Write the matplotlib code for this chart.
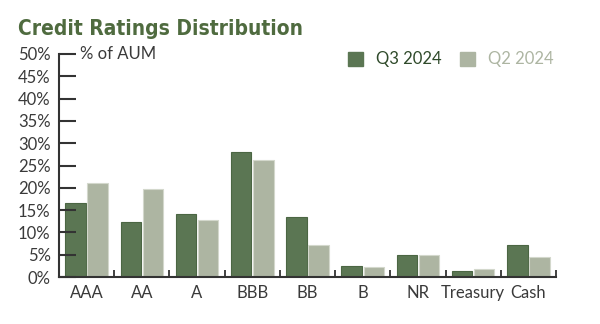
import numpy as np
import matplotlib
matplotlib.use("Agg")
import matplotlib.pyplot as plt
from matplotlib.patches import Rectangle

plt.rcParams['font.family'] = ['Lato', 'DejaVu Sans']

# data
categories = ['AAA', 'AA', 'A', 'BBB', 'BB', 'B', 'NR', 'Treasury', 'Cash']
q3_2024 = [16.5, 12.3, 14.2, 28.0, 13.5, 2.5, 4.9, 1.3, 7.2]
q2_2024 = [21.0, 19.8, 12.8, 26.3, 7.1, 2.3, 4.9, 1.9, 4.4]
series_labels = ['Q3 2024', 'Q2 2024']
y_ticks = [0, 5, 10, 15, 20, 25, 30, 35, 40, 45, 50]

dark = '#5b7653'
dark_edge = '#4b6643'
light = '#adb5a2'
light_edge = '#d3d8cc'
text_col = '#3a3a3a'
title_col = '#4f6b3f'

W, H = 600, 324
fig = plt.figure(figsize=(W / 100, H / 100), dpi=100)
ax = fig.add_axes([59 / W, 1 - 277 / H, (556 - 59) / W, (277 - 54) / H])

x = np.arange(len(categories))
bw = 0.37
ax.bar(x - 0.2, q3_2024, bw, color=dark, edgecolor=dark_edge, linewidth=0.8)
ax.bar(x + 0.2, q2_2024, bw, color=light, edgecolor=light_edge, linewidth=0.8)

ax.set_xlim(-0.5, len(categories) - 0.5)
ax.set_ylim(0, 50)

ax.set_yticks(y_ticks)
ax.set_yticklabels([f'{v}%' for v in y_ticks])
ax.tick_params(axis='y', direction='in', length=12, width=1.5, color='#333333',
               labelsize=12, labelcolor=text_col, pad=6)

ax.set_xticks(x)
ax.set_xticklabels(categories)
ax.tick_params(axis='x', which='major', length=0, labelsize=12,
               labelcolor=text_col, pad=6)
ax.set_xticks(np.arange(len(categories)) + 0.5, minor=True)
ax.tick_params(axis='x', which='minor', direction='in', length=5, width=1.3,
               color='#333333')

for s in ['top', 'right']:
    ax.spines[s].set_visible(False)
for s in ['left', 'bottom']:
    ax.spines[s].set_color('#333333')
    ax.spines[s].set_linewidth(1.5)

# condensed bold title
fig.text(18 / W, 1 - 35 / H, 'Credit Ratings Distribution', fontsize=15,
         fontweight='bold', fontstretch='condensed', color=title_col,
         va='baseline', family=['DejaVu Sans'])
fig.text(80 / W, 1 - 54 / H, '% of AUM', fontsize=12, color=text_col,
         va='center')

# legend
for (x0, xt, lab, c, ec) in [(348, 376, series_labels[0], dark, '#2f4a2a'),
                             (460, 488, series_labels[1], light, light)]:
    fig.patches.append(Rectangle((x0 / W, 1 - 66 / H), 15 / W, 14 / H,
                                 transform=fig.transFigure, color=c))
    fig.text(xt / W, 1 - 59 / H, lab, fontsize=12, color=ec, va='center')

fig.savefig('out.png', dpi=100)
